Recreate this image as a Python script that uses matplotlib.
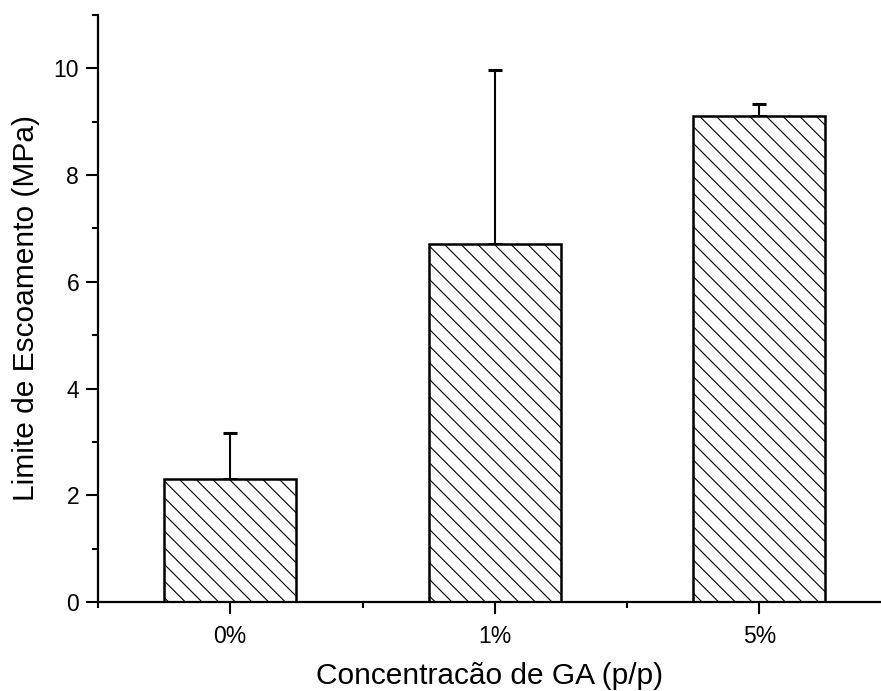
import numpy as np
import matplotlib
matplotlib.use('Agg')
import matplotlib.pyplot as plt
from matplotlib.ticker import MultipleLocator, FixedLocator

# Yield strength by GA concentration
concentrations = ['0%', '1%', '5%']
yield_mpa = [2.30, 6.70, 9.10]
yield_err = [0.87, 3.26, 0.24]

plt.rcParams['font.family'] = ['Liberation Sans', 'DejaVu Sans']
plt.rcParams['hatch.linewidth'] = 0.8

fig = plt.figure(figsize=(8.81, 6.91), dpi=100)
ax = fig.add_axes([0.1112, 0.1288, 0.8888, 0.8495])

x = np.arange(1, len(concentrations) + 1)
ax.bar(x, yield_mpa, width=0.5, color='white', edgecolor='black',
       linewidth=1.8, hatch='\\\\', zorder=2)
ax.errorbar(x, yield_mpa, yerr=[np.zeros(len(yield_err)), yield_err],
            fmt='none', ecolor='black', elinewidth=1.5, capsize=4.8,
            capthick=2.2, zorder=1)

ax.set_xlim(0.5, 3.46)
ax.set_ylim(0, 11)
ax.set_xticks(x)
ax.set_xticklabels(concentrations)
ax.xaxis.set_minor_locator(FixedLocator([0.5, 1.5, 2.5]))
ax.yaxis.set_major_locator(MultipleLocator(2))
ax.yaxis.set_minor_locator(MultipleLocator(1))

ax.spines['top'].set_visible(False)
ax.spines['right'].set_visible(False)
for s in ('left', 'bottom'):
    ax.spines[s].set_linewidth(1.6)

ax.tick_params(which='major', direction='out', length=8.5, width=1.5,
               labelsize=16.5, pad=5)
ax.tick_params(which='minor', direction='out', length=4.5, width=1.5)
ax.tick_params(axis='x', which='major', pad=8)

ax.set_xlabel('Concentracão de GA (p/p)', fontsize=21.5, labelpad=10)
ax.set_ylabel('Limite de Escoamento (MPa)', fontsize=21.5, labelpad=10)

fig.savefig('out.png', dpi=100)
